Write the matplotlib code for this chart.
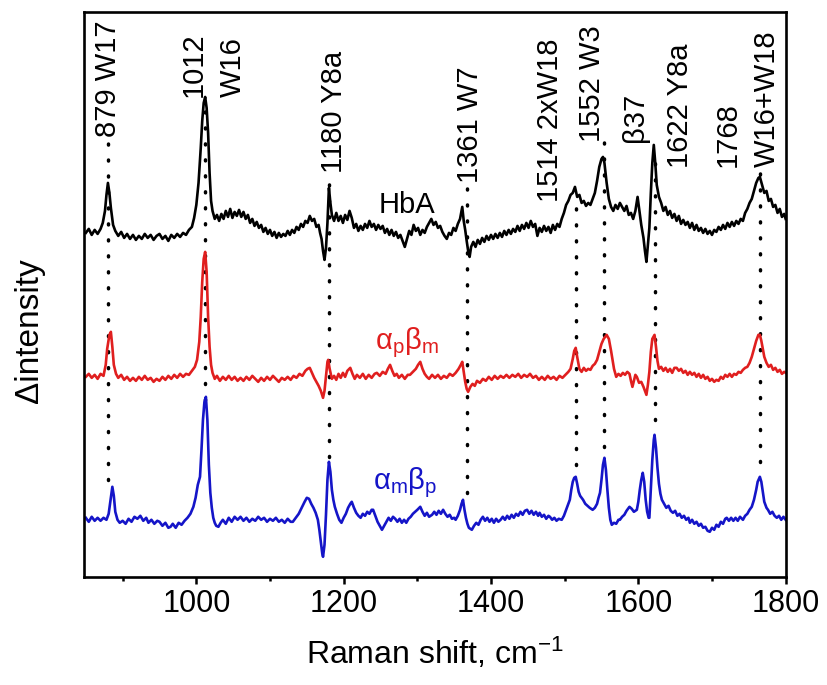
import matplotlib.pyplot as plt
import numpy as np

plt.rcParams['font.family'] = ['Liberation Sans', 'DejaVu Sans']
plt.rcParams['mathtext.default'] = 'regular'

# spectra (wavenumber in cm-1, delta intensity in arbitrary units)
hba_x = [850, 854, 858, 862, 866, 870, 873, 876, 878, 880, 882, 884, 887, 890, 894, 898,
         902, 906, 910, 914, 918, 922, 926, 930, 934, 938, 942, 946, 950, 954, 958, 962,
         966, 970, 974, 978, 982, 986, 990, 994, 997, 1000, 1003, 1006, 1008, 1010, 1012,
         1014, 1016, 1018, 1020, 1022, 1025, 1028, 1031, 1034, 1037, 1040, 1043, 1046, 1049,
         1052, 1055, 1058, 1061, 1064, 1067, 1070, 1073, 1076, 1079, 1082, 1085, 1088, 1091,
         1094, 1097, 1100, 1103, 1106, 1109, 1112, 1115, 1118, 1121, 1124, 1127, 1130, 1133,
         1136, 1139, 1142, 1145, 1148, 1151, 1154, 1157, 1160, 1163, 1166, 1168, 1170, 1172,
         1174, 1176, 1178, 1180, 1182, 1184, 1187, 1190, 1193, 1196, 1199, 1202, 1205, 1208,
         1211, 1214, 1217, 1220, 1223, 1226, 1229, 1232, 1235, 1238, 1241, 1244, 1247, 1250,
         1253, 1256, 1259, 1262, 1265, 1268, 1271, 1274, 1277, 1280, 1283, 1286, 1289, 1292,
         1295, 1298, 1301, 1304, 1307, 1310, 1313, 1316, 1319, 1322, 1325, 1328, 1331, 1334,
         1337, 1340, 1343, 1346, 1349, 1352, 1355, 1358, 1361, 1363, 1365, 1367, 1369, 1371,
         1373, 1376, 1379, 1382, 1385, 1388, 1391, 1394, 1397, 1400, 1403, 1406, 1409, 1412,
         1415, 1418, 1421, 1424, 1427, 1430, 1433, 1436, 1439, 1442, 1445, 1448, 1451, 1454,
         1457, 1460, 1463, 1466, 1469, 1472, 1475, 1478, 1481, 1484, 1487, 1490, 1493, 1496,
         1499, 1502, 1505, 1508, 1511, 1514, 1517, 1520, 1523, 1526, 1529, 1532, 1535, 1538,
         1541, 1544, 1547, 1550, 1552, 1554, 1557, 1560, 1563, 1566, 1569, 1572, 1575, 1578,
         1581, 1584, 1587, 1590, 1593, 1596, 1599, 1601, 1604, 1607, 1609, 1611, 1613, 1615,
         1617, 1619, 1621, 1623, 1625, 1628, 1631, 1634, 1637, 1640, 1643, 1646, 1649, 1652,
         1655, 1658, 1661, 1664, 1667, 1670, 1673, 1676, 1679, 1682, 1685, 1688, 1691, 1694,
         1697, 1700, 1703, 1706, 1709, 1712, 1715, 1718, 1721, 1724, 1727, 1730, 1733, 1736,
         1739, 1742, 1745, 1748, 1751, 1754, 1757, 1760, 1763, 1765, 1768, 1771, 1774, 1777,
         1780, 1783, 1786, 1789, 1792, 1795, 1798, 1800]
hba_y = [0, 4, -2, 3, -1, 4, 10, 22, 38, 50, 40, 25, 8, 2, -3, 1,
         -5, -1, -6, -2, -7, -3, -6, -1, -5, -2, -7, -3, -1, -6, -3, -8,
         -2, -5, -1, -4, 0, -2, 3, 6, 15, 28, 50, 85, 112, 130, 136,
         125, 100, 60, 32, 22, 14, 18, 12, 19, 14, 22, 16, 24, 15,
         21, 17, 23, 16, 21, 14, 18, 10, 14, 7, 11, 5, 8, 1,
         5, -1, 3, -3, 1, -5, 0, -4, -1, -3, 2, -2, 3, 0,
         6, 3, 9, 6, 12, 10, 17, 12, 14, 6, 8, 0, -6, -18,
         -27, -15, 10, 45, 30, 18, 12, 20, 12, 17, 10, 18, 13, 22,
         15, 5, 9, 2, 7, 3, 9, 5, 12, 6, 9, 3, 8, 4,
         7, 0, 4, -2, 3, -3, 1, -5, -2, -8, -14, -6, 2, -2,
         8, 2, 5, -2, 3, 0, 6, 10, 14, 8, 11, 5, 7, 1,
         -3, -6, 0, -2, 5, 2, 9, 14, 26, 12, 3, -8, -18, -24,
         -14, -9, -14, -7, -11, -5, -9, -3, -7, -2, -6, -1, -5, 0,
         -4, 2, -2, 3, -1, 4, 1, 7, 2, 8, 4, 10, 5, 12,
         6, 9, -3, 5, 1, 7, 2, 6, 0, 8, 3, 9, 6, 14,
         20, 28, 32, 38, 40, 46, 36, 38, 30, 32, 27, 30, 28, 34,
         40, 52, 66, 74, 76, 70, 50, 34, 26, 22, 28, 24, 30, 26,
         22, 27, 18, 20, 14, 22, 36, 25, 8, -5, -18, -29, -12, 5,
         40, 70, 88, 70, 48, 36, 30, 22, 26, 18, 22, 15, 19, 12,
         17, 9, 13, 8, 11, 5, 10, 3, 8, 2, 5, 0, 4, -1,
         2, -2, 3, 1, 6, 3, 8, 4, 10, 6, 11, 7, 12, 9,
         14, 12, 20, 24, 30, 34, 42, 50, 55, 56, 48, 40, 42, 32,
         34, 26, 28, 20, 24, 16, 19, 14]

apbm_x = [850, 854, 858, 862, 866, 870, 874, 877, 879, 882, 884, 886, 888, 891, 894, 898,
          902, 906, 910, 914, 918, 922, 926, 930, 934, 938, 942, 946, 950, 954, 958, 962,
          966, 970, 974, 978, 982, 986, 990, 994, 998, 1001, 1004, 1006, 1008, 1010, 1012,
          1014, 1016, 1018, 1020, 1022, 1025, 1028, 1032, 1036, 1040, 1044, 1048, 1052, 1056,
          1060, 1064, 1068, 1072, 1076, 1080, 1084, 1088, 1092, 1096, 1100, 1104, 1108, 1112,
          1116, 1120, 1124, 1128, 1132, 1136, 1140, 1144, 1148, 1151, 1154, 1157, 1160, 1163,
          1166, 1169, 1172, 1174, 1176, 1178, 1179, 1181, 1184, 1187, 1190, 1193, 1196, 1199,
          1202, 1205, 1209, 1212, 1215, 1218, 1222, 1226, 1230, 1234, 1238, 1242, 1245, 1249,
          1253, 1257, 1260, 1263, 1266, 1269, 1272, 1275, 1279, 1283, 1287, 1290, 1294, 1298,
          1301, 1304, 1307, 1310, 1313, 1316, 1320, 1324, 1328, 1332, 1336, 1340, 1344, 1348,
          1352, 1356, 1359, 1361, 1363, 1365, 1367, 1369, 1372, 1375, 1378, 1381, 1385, 1389,
          1393, 1397, 1401, 1405, 1409, 1413, 1417, 1421, 1425, 1429, 1433, 1437, 1441, 1445,
          1449, 1453, 1457, 1461, 1465, 1469, 1473, 1477, 1481, 1485, 1489, 1493, 1497, 1501,
          1505, 1508, 1511, 1513, 1515, 1517, 1520, 1523, 1526, 1529, 1532, 1535, 1538, 1541,
          1544, 1547, 1550, 1553, 1557, 1560, 1563, 1565, 1567, 1570, 1573, 1576, 1579, 1582,
          1585, 1588, 1590, 1592, 1594, 1596, 1598, 1601, 1604, 1607, 1609, 1611, 1613, 1615,
          1617, 1619, 1622, 1624, 1626, 1628, 1631, 1634, 1637, 1640, 1643, 1646, 1649, 1652,
          1655, 1658, 1661, 1664, 1667, 1670, 1673, 1676, 1679, 1682, 1685, 1688, 1691, 1694,
          1697, 1700, 1703, 1706, 1709, 1712, 1715, 1718, 1721, 1724, 1727, 1730, 1733, 1736,
          1739, 1742, 1745, 1748, 1751, 1754, 1757, 1760, 1763, 1765, 1767, 1769, 1771, 1774,
          1777, 1780, 1783, 1786, 1789, 1792, 1795, 1798, 1800]
apbm_y = [0, 3, -1, 2, -2, 3, 1, 12, 28, 42, 45, 30, 12, 3, -1, 2,
          -3, 0, -4, -1, -4, 0, -3, 1, -3, -1, -5, -2, -4, 0, -3, 1,
          -2, 2, -1, 3, 0, 3, 2, 6, 10, 17, 35, 60, 95, 118, 125,
          105, 60, 30, 12, 4, -2, 1, -4, 0, -3, 1, -3, 0, -4,
          -1, -4, 0, -3, 1, -2, -5, -1, -4, 0, -3, 1, -2, -5,
          -1, -3, 0, -3, 1, -1, 3, 1, 6, 8, 9, 4, -1, -5,
          -9, -14, -21, -14, 0, 15, 17, 8, -2, 1, -3, 3, -1, 4,
          0, 6, 9, 3, -2, 2, -1, 3, -2, 2, -1, 3, 4, 1,
          5, 3, 8, 12, 6, 1, 3, -1, 2, -2, 2, 2, 5, 8,
          12, 15, 8, 3, 0, -2, 2, -1, 2, -2, 1, -1, 3, 1,
          4, 8, 12, 15, 5, -5, -12, -15, -10, -7, -9, -4, -6, -2,
          -4, 0, -3, 1, -2, 1, -1, 2, -1, 2, 0, 3, -1, 2,
          0, 3, -1, 1, -3, 0, -3, 1, -2, 0, -3, 1, -1, 2,
          5, 8, 18, 26, 29, 20, 8, 5, 9, 6, 8, 7, 11, 13,
          17, 25, 33, 38, 42, 38, 26, 17, 8, 0, 3, 1, 4, 2,
          5, 3, -4, -10, -4, 2, 0, -6, -5, -10, -14, -18, -8, 5,
          25, 38, 42, 30, 16, 8, 10, 6, 9, 5, 8, 4, 9, 9,
          6, 8, 4, 6, 2, 5, 2, 4, 0, 3, -1, 2, -2, 0,
          -4, -2, -5, -3, -4, 0, -2, 2, 0, 3, 0, 3, 2, 5,
          4, 7, 9, 10, 14, 20, 28, 36, 42, 42, 36, 28, 20, 14,
          10, 12, 7, 9, 5, 7, 3, 5, 4]

ambp_x = [850, 854, 858, 862, 866, 870, 874, 878, 881, 884, 886, 888, 890, 893, 896, 900,
          904, 908, 912, 916, 920, 924, 928, 932, 935, 939, 943, 947, 950, 954, 958, 962,
          965, 968, 972, 976, 980, 984, 988, 992, 996, 999, 1002, 1005, 1007, 1009, 1011,
          1013, 1015, 1017, 1019, 1021, 1023, 1025, 1027, 1030, 1033, 1036, 1040, 1044, 1048,
          1052, 1056, 1060, 1064, 1068, 1072, 1076, 1080, 1084, 1088, 1092, 1096, 1100, 1104,
          1108, 1112, 1116, 1120, 1124, 1128, 1131, 1135, 1139, 1143, 1147, 1150, 1153, 1156,
          1159, 1162, 1165, 1167, 1169, 1171, 1172, 1174, 1176, 1178, 1180, 1182, 1184, 1186,
          1188, 1191, 1194, 1197, 1200, 1203, 1206, 1209, 1211, 1214, 1217, 1220, 1223, 1226,
          1229, 1232, 1235, 1238, 1240, 1243, 1246, 1249, 1252, 1255, 1258, 1261, 1264, 1267,
          1270, 1273, 1276, 1279, 1282, 1285, 1288, 1291, 1294, 1297, 1300, 1304, 1307, 1310,
          1313, 1316, 1320, 1323, 1326, 1329, 1332, 1335, 1338, 1341, 1344, 1347, 1350, 1352,
          1355, 1358, 1360, 1362, 1364, 1366, 1368, 1370, 1372, 1374, 1377, 1380, 1383, 1386,
          1389, 1392, 1395, 1398, 1401, 1404, 1407, 1410, 1413, 1416, 1419, 1422, 1425, 1428,
          1431, 1434, 1437, 1440, 1443, 1446, 1449, 1452, 1455, 1458, 1461, 1464, 1466, 1469,
          1472, 1475, 1478, 1480, 1483, 1486, 1489, 1492, 1496, 1499, 1502, 1505, 1507, 1509,
          1511, 1513, 1515, 1517, 1519, 1521, 1523, 1525, 1528, 1531, 1534, 1538, 1541, 1544,
          1546, 1548, 1550, 1552, 1554, 1556, 1558, 1560, 1562, 1564, 1567, 1570, 1573, 1575,
          1578, 1581, 1584, 1588, 1591, 1594, 1596, 1598, 1600, 1602, 1604, 1606, 1608, 1610,
          1612, 1614, 1615, 1617, 1619, 1621, 1622, 1624, 1626, 1628, 1630, 1632, 1635, 1638,
          1641, 1644, 1647, 1650, 1653, 1656, 1659, 1662, 1665, 1668, 1670, 1673, 1676, 1679,
          1682, 1685, 1688, 1691, 1694, 1697, 1700, 1703, 1706, 1709, 1712, 1715, 1718, 1720,
          1723, 1726, 1729, 1732, 1735, 1738, 1742, 1745, 1748, 1751, 1754, 1757, 1760, 1762,
          1765, 1767, 1769, 1771, 1774, 1776, 1779, 1782, 1785, 1788, 1791, 1794, 1797, 1800]
ambp_y = [2, -2, 3, -1, 2, -1, 2, 0, 6, 22, 33, 24, 8, 0, -3, -1,
          -4, 1, -2, 3, 1, 4, -1, 2, -3, 0, -4, -1, -2, -6, -3, -8,
          -7, -4, -8, -3, -5, -1, 2, 6, 13, 22, 35, 43, 70, 100, 118,
          123, 100, 55, 27, 12, 2, -3, -6, -7, -3, 0, -4, 2, -2,
          3, 0, 3, -1, 2, -2, 1, -1, 3, 0, 2, -2, 1, -1,
          2, -2, 0, -3, 1, -2, -2, 2, 6, 12, 18, 22, 21, 16,
          12, 7, 0, -10, -22, -34, -37, -25, 5, 40, 58, 48, 30, 20,
          13, 6, 0, -3, 2, 6, 12, 16, 18, 12, 7, 4, 2, 6,
          4, 8, 6, 10, 10, 4, -2, -6, -10, -6, -2, 2, -1, 3,
          1, -2, 1, -3, 0, -3, 1, 3, 6, 8, 10, 13, 8, 4,
          7, 3, 5, 8, 5, 9, 6, 10, 6, 3, 5, 1, 2, 0,
          4, 10, 16, 20, 10, 2, -4, -8, -9, -10, -6, -3, -5, 0,
          3, -1, 2, -2, 1, -3, 1, -2, 0, 3, 0, 4, 1, 5,
          2, 6, 4, 8, 5, 9, 10, 6, 9, 5, 8, 4, 7, 3,
          5, 1, 4, 3, 0, 2, -1, 1, 0, 4, 10, 16, 20, 30,
          38, 42, 43, 36, 28, 24, 22, 20, 16, 14, 12, 10, 12, 16,
          22, 27, 40, 55, 62, 50, 30, 12, 0, -5, -3, -4, 0, 0,
          3, 5, 9, 13, 11, 8, 9, 10, 18, 30, 40, 47, 38, 20,
          8, 2, 2, 30, 60, 80, 85, 72, 52, 36, 26, 20, 16, 12,
          14, 9, 7, 9, 4, 6, 2, 4, 0, 2, -3, 0, -4, -2,
          -6, -4, -8, -7, -11, -12, -8, -10, -5, -7, -2, -4, 1, 2,
          -1, 2, -1, 2, -1, 3, 0, 4, 6, 10, 13, 20, 30, 38,
          43, 38, 28, 18, 12, 10, 6, 8, 4, 2, 4, 0, 3, 0]

offsets = [344, 200, 57]
colors = ['black', '#e01f1f', '#1515c8']

# band assignments: label, x, y of label bottom
band_labels = ['879 W17', '1012', 'W16', '1180 Y8a', '1361 W7', '1514 2xW18',
               '1552 W3', '\u03b237', '1622 Y8a', '1768', 'W16+W18']
band_label_x = [880, 996, 1050, 1187, 1371, 1480, 1537, 1595, 1656, 1721, 1775]
band_label_y = [440, 480, 480, 404, 394, 375, 435, 435, 409, 410, 410]

# dotted guide lines: x, top, bottom
guide_x = [880, 1012, 1180, 1367, 1516, 1554, 1622, 1765]
guide_top = [437, 477, 400, 390, 377, 440, 427, 405]
guide_bottom = [97, 177, 120, 84, 112, 130, 157, 115]

fig = plt.figure(figsize=(8.27, 6.85), dpi=100)
ax = fig.add_axes([0.102, 0.158, 0.848, 0.8245])

for gx, gt, gb in zip(guide_x, guide_top, guide_bottom):
    ax.plot([gx, gx], [gb, gt], color='black', lw=2.5, dashes=(0.3, 4.3),
            dash_capstyle='round', zorder=1)

spectra = [(hba_x, hba_y), (apbm_x, apbm_y), (ambp_x, ambp_y)]
for (sx, sy), off, c in zip(spectra, offsets, colors):
    ax.plot(sx, np.array(sy) + off, color=c, lw=1.9, zorder=2)

for lab, lx, ly in zip(band_labels, band_label_x, band_label_y):
    ax.text(lx, ly, lab, rotation=90, ha='center', va='bottom', fontsize=21)

ax.text(1286, 372, 'HbA', ha='center', va='center', fontsize=21)
ax.text(1286, 234, r'$\alpha_p\beta_m$', ha='center', va='center', fontsize=21,
        color=colors[1])
ax.text(1283, 94, r'$\alpha_m\beta_p$', ha='center', va='center', fontsize=21,
        color=colors[2])

ax.set_xlim(848, 1800)
ax.set_ylim(0, 565)
ax.set_xticks([1000, 1200, 1400, 1600, 1800])
ax.set_xticks([900, 1100, 1300, 1500, 1700], minor=True)
ax.set_yticks([])
ax.tick_params(axis='x', which='major', direction='out', length=5, width=1.8,
               labelsize=22, pad=4)
ax.tick_params(axis='x', which='minor', direction='out', length=3, width=1.8)
for sp in ax.spines.values():
    sp.set_linewidth(1.9)

ax.set_xlabel('Raman shift, cm$^{-1}$', fontsize=23, labelpad=12)
ax.set_ylabel('\u0394intensity', fontsize=24)
ax.yaxis.set_label_coords(-0.056, 0.435)

plt.savefig('out.png', dpi=100)
